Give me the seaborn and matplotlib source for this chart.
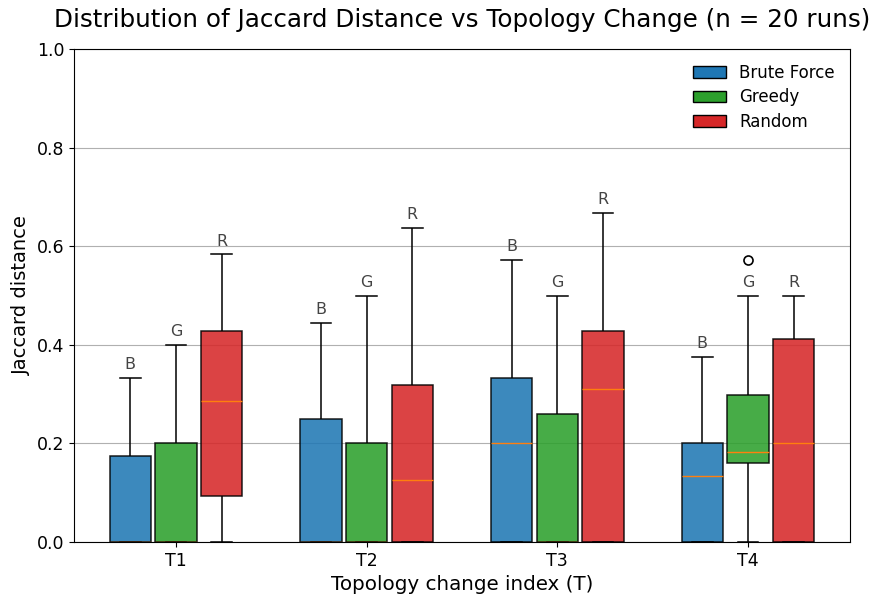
import matplotlib
matplotlib.use("Agg")
import matplotlib.pyplot as plt
from matplotlib.patches import Patch
from matplotlib import cbook
import seaborn as sns
import pandas as pd

# Jaccard distance of each of the 20 runs, per topology change and method
topologies = ["T1", "T2", "T3", "T4"]
methods = ["Brute Force", "Greedy", "Random"]
method_tags = ["B", "G", "R"]
colors = ["#1f77b4", "#2ca02c", "#d62728"]

t1_brute = [0] * 11 + [0.1, 1/8, 1/7, 1/6, 1/5, 1/4, 1/4, 2/7, 1/3]
t1_greedy = [0] * 11 + [0.1, 1/8, 1/6, 1/5, 1/5, 1/4, 1/3, 1/3, 2/5]
t1_random = [0] * 5 + [1/8, 1/7, 1/5, 1/4, 2/7, 2/7, 1/3, 3/8, 2/5, 3/7, 3/7, 1/2, 1/2, 4/7, 7/12]

t2_brute = [0] * 11 + [0.1, 1/7, 1/5, 1/4, 1/4, 2/7, 1/3, 2/5, 4/9]
t2_greedy = [0] * 11 + [0.1, 1/8, 1/6, 1/5, 1/5, 1/4, 1/3, 2/5, 1/2]
t2_random = [0] * 6 + [0.1, 1/9, 1/8, 1/8, 1/8, 1/5, 1/4, 2/7, 0.3, 3/8, 2/5, 1/2, 4/7, 7/11]

t3_brute = [0] * 6 + [0.1, 1/8, 1/7, 1/5, 1/5, 1/4, 1/4, 2/7, 1/3, 1/3, 2/5, 1/2, 1/2, 4/7]
t3_greedy = [0] * 11 + [1/8, 1/6, 1/5, 1/4, 2/7, 1/3, 2/5, 2/5, 1/2]
t3_random = [0] * 6 + [1/8, 1/5, 1/4, 2/7, 1/3, 3/8, 2/5, 2/5, 3/7, 3/7, 1/2, 4/7, 3/5, 2/3]

t4_brute = [0] * 6 + [0.1, 1/9, 1/8, 1/8, 1/7, 1/6, 1/5, 1/5, 1/5, 1/5, 1/4, 2/7, 1/3, 3/8]
t4_greedy = [0, 0.1, 1/9, 1/8, 1/7, 1/6, 1/6, 1/6, 1/6, 1/6,
             1/5, 1/5, 1/4, 1/4, 2/7, 1/3, 2/5, 1/2, 1/2, 4/7]
t4_random = [0] * 6 + [0.1, 1/8, 1/6, 1/5, 1/5, 1/4, 0.3, 1/3, 2/5, 4/9, 1/2, 1/2, 1/2, 1/2]

runs = {
    ("T1", "Brute Force"): t1_brute, ("T1", "Greedy"): t1_greedy, ("T1", "Random"): t1_random,
    ("T2", "Brute Force"): t2_brute, ("T2", "Greedy"): t2_greedy, ("T2", "Random"): t2_random,
    ("T3", "Brute Force"): t3_brute, ("T3", "Greedy"): t3_greedy, ("T3", "Random"): t3_random,
    ("T4", "Brute Force"): t4_brute, ("T4", "Greedy"): t4_greedy, ("T4", "Random"): t4_random,
}

rows = [(t, m, v) for (t, m), vals in runs.items() for v in vals]
df = pd.DataFrame(rows, columns=["topology", "method", "jaccard"])

WHIS = 1.6
BOX_WIDTH = 0.72

fig = plt.figure(figsize=(8.73, 5.99), dpi=100)
ax = fig.add_axes([74 / 873, 1 - 542 / 599, 776 / 873, 493 / 599])

sns.boxplot(
    data=df, x="topology", y="jaccard", hue="method",
    order=topologies, hue_order=methods, palette=colors, saturation=1,
    width=BOX_WIDTH, gap=0.1, whis=WHIS, linecolor="black", linewidth=1.1,
    boxprops={"alpha": 0.87},
    medianprops={"color": "#ff7f0e", "linewidth": 1.0},
    flierprops={"marker": "o", "markerfacecolor": "none",
                "markeredgecolor": "black", "markersize": 6.5, "markeredgewidth": 1.2},
    legend=False, ax=ax,
)

# method tag above each upper whisker
slot = BOX_WIDTH / len(methods)
for i, t in enumerate(topologies):
    for j, m in enumerate(methods):
        st = cbook.boxplot_stats(runs[(t, m)], whis=WHIS)[0]
        xpos = i + (j - 1) * slot
        ax.text(xpos, st["whishi"] + 0.012, method_tags[j], ha="center", va="bottom",
                fontsize=11.5, color="#444444")

ax.set_ylim(0, 1.0)
ax.set_xlim(-0.535, 3.535)
ax.set_yticks([0, 0.2, 0.4, 0.6, 0.8, 1.0])
ax.set_yticklabels(["0.0", "0.2", "0.4", "0.6", "0.8", "1.0"])
ax.yaxis.grid(True, color="#b0b0b0", linewidth=0.8)
ax.set_axisbelow(True)
ax.tick_params(labelsize=12.5)
for s in ax.spines.values():
    s.set_visible(True)
    s.set_color("black")

ax.set_xlabel("Topology change index (T)", fontsize=14.3)
ax.set_ylabel("Jaccard distance", fontsize=14)
ax.set_title("Distribution of Jaccard Distance vs Topology Change (n = 20 runs)",
             fontsize=17.7, pad=16)

handles = [Patch(facecolor=c, edgecolor="black", label=m) for c, m in zip(colors, methods)]
ax.legend(handles=handles, loc="upper right", frameon=False, fontsize=12,
          labelspacing=0.38)

fig.savefig("out.png", dpi=100)
